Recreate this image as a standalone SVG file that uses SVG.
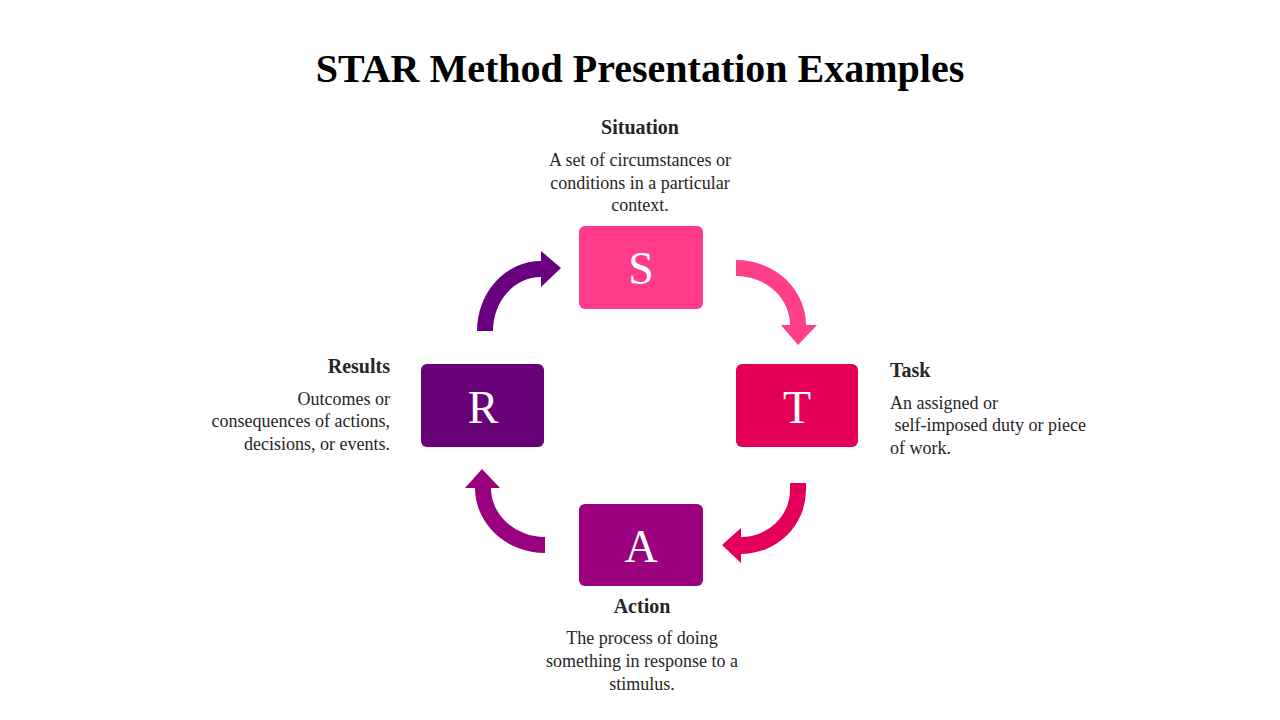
<svg xmlns="http://www.w3.org/2000/svg" width="1280" height="720" viewBox="0 0 1280 720">
<style>
text{font-family:"Liberation Serif","DejaVu Serif",serif}
.t{font-size:40px;font-weight:bold;fill:#000}
.h{font-size:20px;font-weight:bold;fill:#262626}
.b{font-size:18px;fill:#262626}
.l{font-size:46px;fill:#fff}
</style>
<rect width="1280" height="720" fill="#fff"/>
<text class="t" x="640" y="82" text-anchor="middle">STAR Method Presentation Examples</text>
<g id="connectors">
<path d="M736,260 A70,65 0 0 1 806,325 L817,325 L798,345 L781,325 L790,325 A54,49 0 0 0 736,276 Z" fill="#FF4088"/>
<path d="M806,483 L806,490 A65,64 0 0 1 741,554 L741,563 L722,545 L741,528 L741,537 A49,47 0 0 0 790,490 L790,483 Z" fill="#E4005A"/>
<path d="M545,553 A70,65 0 0 1 475,488 L465,488 L482,469 L500,488 L491,488 A54,49 0 0 0 545,537 Z" fill="#990080"/>
<path d="M477,331 A64,70 0 0 1 541,261 L541,251 L561,268 L541,287 L541,277 A48,54 0 0 0 493,331 Z" fill="#6A0080"/>
</g>
<g id="S">
<rect x="579" y="226" width="124" height="83" rx="6" fill="#FF3B8A"/>
<text class="l" x="641" y="284" text-anchor="middle">S</text>
<text class="h" x="640" y="134" text-anchor="middle">Situation</text>
<text class="b" text-anchor="middle"><tspan x="640" y="166">A set of circumstances or</tspan><tspan x="640" y="189">conditions in a particular</tspan><tspan x="640" y="211">context.</tspan></text>
</g>
<g id="T">
<rect x="736" y="364" width="122" height="83" rx="6" fill="#E40056"/>
<text class="l" x="797" y="423" text-anchor="middle">T</text>
<text class="h" x="890" y="377">Task</text>
<text class="b"><tspan x="890" y="409">An assigned or</tspan><tspan x="890" y="431"> self-imposed duty or piece</tspan><tspan x="890" y="454">of work.</tspan></text>
</g>
<g id="A">
<rect x="579" y="504" width="124" height="82" rx="6" fill="#9B007E"/>
<text class="l" x="641" y="562" text-anchor="middle">A</text>
<text class="h" x="642" y="613" text-anchor="middle">Action</text>
<text class="b" text-anchor="middle"><tspan x="642" y="644">The process of doing</tspan><tspan x="642" y="667">something in response to a</tspan><tspan x="642" y="690">stimulus.</tspan></text>
</g>
<g id="R">
<rect x="421" y="364" width="123" height="83" rx="6" fill="#680078"/>
<text class="l" x="483" y="423" text-anchor="middle">R</text>
<text class="h" x="390" y="373" text-anchor="end">Results</text>
<text class="b" text-anchor="end"><tspan x="390" y="405">Outcomes or</tspan><tspan x="390" y="427">consequences of actions,</tspan><tspan x="390" y="450">decisions, or events.</tspan></text>
</g>
</svg>
